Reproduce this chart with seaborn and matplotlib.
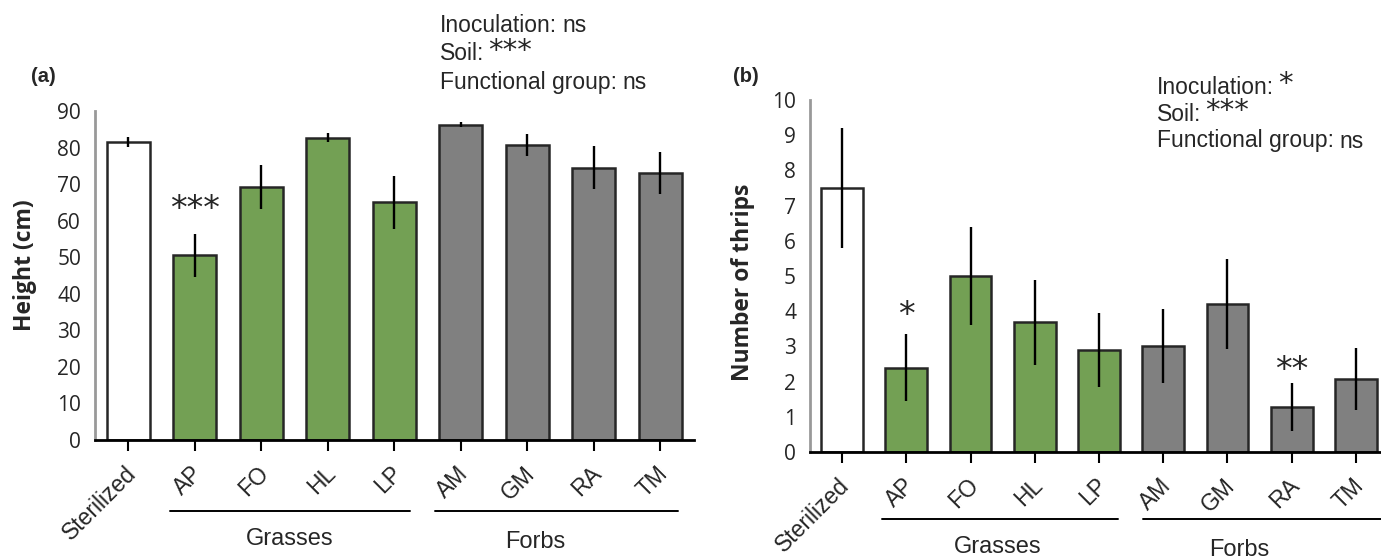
import matplotlib
matplotlib.use('Agg')
import matplotlib.pyplot as plt
import matplotlib.transforms as mtransforms
import seaborn as sns

# data
treatments = ['Sterilized', 'AP', 'FO', 'HL', 'LP', 'AM', 'GM', 'RA', 'TM']
groups = ['control', 'grass', 'grass', 'grass', 'grass', 'forb', 'forb', 'forb', 'forb']
height_mean = [81.5, 50.5, 69.3, 82.7, 65.0, 86.3, 80.7, 74.5, 73.0]
height_err = [1.3, 5.8, 6.0, 1.3, 7.3, 0.7, 3.0, 5.8, 5.7]
thrips_mean = [7.5, 2.4, 5.0, 3.68, 2.9, 3.0, 4.2, 1.28, 2.07]
thrips_err = [1.7, 0.95, 1.4, 1.2, 1.05, 1.05, 1.27, 0.69, 0.88]
height_sig = {'AP': '***'}
thrips_sig = {'AP': '*', 'RA': '**'}
height_stats = [('Inoculation:', 'ns'), ('Soil:', '***'), ('Functional group:', 'ns')]
thrips_stats = [('Inoculation:', '*'), ('Soil:', '***'), ('Functional group:', 'ns')]

group_colors = {'control': '#FFFFFF', 'grass': '#70AD47', 'forb': '#808080'}
bar_colors = [group_colors[g] for g in groups]

sns.set_style('white')
plt.rcParams['font.family'] = ['Liberation Sans', 'DejaVu Sans']

fig = plt.figure(figsize=(13.81, 5.6), dpi=100)
ax_a = fig.add_axes([95 / 1381, 1 - 440 / 560, 598.5 / 1381, 329 / 560])
ax_b = fig.add_axes([810 / 1381, 1 - 452 / 560, 578 / 1381, 352 / 560])


def draw_panel(ax, means, errs, ymax, ystep, ylabel, sig, sig_px, lines, texts):
    sns.barplot(x=treatments, y=means, hue=treatments, palette=bar_colors, legend=False,
                width=0.65, edgecolor='#262626', linewidth=1.8, ax=ax)
    ax.errorbar(range(len(treatments)), means, yerr=errs, fmt='none',
                ecolor='black', elinewidth=1.7, capsize=0)
    ax.set_xlim(-0.5, len(treatments) - 0.5)
    ax.set_ylim(0, ymax)
    ax.set_yticks(range(0, ymax + 1, ystep))
    ax.set_yticklabels([str(v) for v in range(0, ymax + 1, ystep)],
                       family=['Open Sans', 'DejaVu Sans'])
    ax.tick_params(axis='y', labelsize=15, length=6, width=1.2, color='#999999', pad=4)
    ax.tick_params(axis='x', labelsize=16.5, length=8, width=1.5, color='black', direction='out',
                   bottom=True, pad=2)
    ax.set_xticks(range(len(treatments)))
    ax.set_xticklabels(treatments, rotation=45, ha='right', rotation_mode='anchor')
    for lab in ax.get_xticklabels():
        lab.set_transform(lab.get_transform() + mtransforms.ScaledTranslation(-0.04, -0.08, fig.dpi_scale_trans))
    for s in ['top', 'right']:
        ax.spines[s].set_visible(False)
    ax.spines['left'].set_color('#999999')
    ax.spines['left'].set_linewidth(2)
    ax.spines['bottom'].set_color('black')
    ax.spines['bottom'].set_linewidth(2)
    ax.set_xlabel('')
    ax.set_ylabel(ylabel, fontsize=16.5, fontweight='bold', family=['Open Sans', 'DejaVu Sans'])
    # significance stars above the error bars (offset in pixels)
    for (name, stars), off in zip(sig.items(), sig_px):
        i = treatments.index(name)
        ax.annotate(stars, xy=(i, means[i] + errs[i]), xytext=(0, off), textcoords='offset pixels',
                    ha='center', va='bottom', fontsize=24, family=['DejaVu Sans'])
    trans = mtransforms.blended_transform_factory(ax.transData, ax.transAxes)
    for (x0, x1, y) in lines:
        ax.plot([x0, x1], [y, y], color='black', lw=1.4, transform=trans, clip_on=False)
    for (x, y, t) in texts:
        ax.text(x, y, t, ha='center', va='center', fontsize=17, transform=trans)


def draw_stats(x, y0, dy, stats):
    for k, (label, value) in enumerate(stats):
        t = fig.text(x, y0 - dy * k, label, fontsize=16.5, va='center')
        if '*' in value:
            plt.annotate(value, xy=(1, 0.5), xycoords=t, xytext=(3, 2), textcoords='offset points',
                         va='center', ha='left', fontsize=21, family=['DejaVu Sans'])
        else:
            plt.annotate(value, xy=(1, 0.5), xycoords=t, xytext=(4, 0), textcoords='offset points',
                         va='center', ha='left', fontsize=16.5)


draw_panel(ax_a, height_mean, height_err, 90, 10, 'Height (cm)', height_sig, [8],
           [(0.63, 4.24, -0.216), (4.61, 8.27, -0.216)],
           [(2.43, -0.30, 'Grasses'), (6.12, -0.31, 'Forbs')])
draw_panel(ax_b, thrips_mean, thrips_err, 10, 1, 'Number of thrips', thrips_sig, [2, -4],
           [(0.62, 4.29, -0.19), (4.68, 9.0, -0.19)],
           [(2.43, -0.27, 'Grasses'), (6.19, -0.278, 'Forbs')])
ax_a.yaxis.set_label_coords(-0.097, 0.532)
ax_b.yaxis.set_label_coords(-0.095, 0.483)

# panel letters and stats text
fig.text(31 / 1381, 1 - 76 / 560, '(a)', fontsize=14.5, fontweight='bold', va='center')
fig.text(733 / 1381, 1 - 76 / 560, '(b)', fontsize=14.5, fontweight='bold', va='center')
draw_stats(440 / 1381, 1 - 25 / 560, 29 / 560, height_stats)
draw_stats(1157 / 1381, 1 - 87 / 560, 27 / 560, thrips_stats)

fig.savefig('out.png', dpi=100)
